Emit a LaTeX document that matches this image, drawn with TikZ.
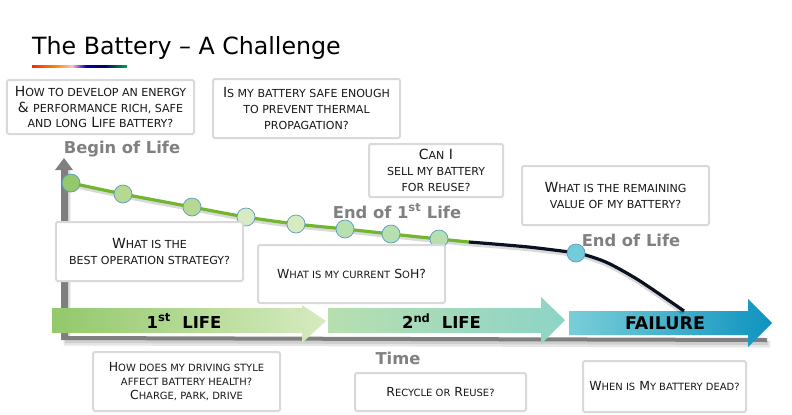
\documentclass[tikz,border=0pt]{standalone}
\usepackage{fontspec}
\setmainfont{DejaVu Sans}
\usetikzlibrary{shadings}
\newcommand\smallsz{11}
\newcommand\sm[1]{{\fontsize{\smallsz}{14}\selectfont\MakeUppercase{#1}}}
\definecolor{boxline}{HTML}{D9D9D9}
\definecolor{axisgray}{HTML}{7F7F7F}
\definecolor{labgray}{HTML}{808080}
\definecolor{curvegreen}{HTML}{72B52E}
\definecolor{curveblack}{HTML}{0A1222}
\definecolor{ringblue}{HTML}{5B9BBF}
\tikzset{
  qbox/.style={draw=boxline,line width=2bp,fill=white,rounded corners=1.5bp,align=center,inner sep=0pt,text=black!90},
  qmid/.style={qbox,font=\def\smallsz{11.1}\fontsize{14}{16}\selectfont},
  qsmall/.style={qbox,font=\def\smallsz{10}\fontsize{12.5}{14}\selectfont},
  lab/.style={text=labgray,font=\fontsize{16.4}{18}\selectfont\bfseries,inner sep=0pt},
  lifelab/.style={text=black,font=\fontsize{16.5}{18}\selectfont\bfseries,inner sep=0pt},
  dot/.style={circle,draw=ringblue,line width=0.7bp,minimum size=18bp,inner sep=0pt},
  axisline/.style={draw=axisgray},
  shadowline/.style={draw=black,opacity=0.10},
}
\begin{document}
\begin{tikzpicture}[x=1bp,y=-1bp]
\useasboundingbox (0,0) rectangle (792,414);
% title
\node[anchor=base west,inner sep=0pt,font=\fontsize{23.8}{28}\selectfont,text=black] (title) at (32,54) {The Battery – A Challenge};
\shade[left color=red!70!orange,right color=orange] (32,65) rectangle (54,67.5);
\shade[left color=orange,right color=pink] (54,65) rectangle (72,67.5);
\shade[left color=pink,right color=blue!70!black] (72,65) rectangle (86,67.5);
\shade[left color=blue!70!black,right color=blue!40!black] (86,65) rectangle (104,67.5);
\shade[left color=blue!40!black,right color=teal!70!green] (104,65) rectangle (127,67.5);
% axes
\coordinate (origin) at (64.5,338);
\coordinate (ytop) at (64,158);
\coordinate (xend) at (767,340);
\draw[shadowline,line width=7bp] (67,170) -- (67,342) -- (770,344);
\draw[shadowline,line width=4bp] (67,170) -- (67,341) -- (768,343);
\draw[axisline,line width=6.5bp] (origin) -- (64.5,170);
\draw[axisline,line width=4bp] (61.25,338) -- (xend);
\fill[axisgray] (ytop) -- (73,170) -- (55,170) -- cycle;
% arrows
\shade[left color={rgb,255:red,147;green,200;blue,107},middle color={rgb,255:red,178;green,215;blue,145},right color={rgb,255:red,214;green,235;blue,192}]
  (52,308) -- (302,308) -- (302,305) -- (326,321) -- (302,343) -- (302,333) -- (52,333) -- cycle;
\shade[left color={rgb,255:red,183;green,223;blue,176},right color={rgb,255:red,141;green,212;blue,199}]
  (328,308) -- (541,308) -- (541,297) -- (565,320) -- (541,344) -- (541,333) -- (328,333) -- cycle;
\shade[left color={rgb,255:red,122;green,206;blue,217},middle color={rgb,255:red,105;green,192;blue,214},right color={rgb,255:red,14;green,147;blue,191}]
  (569,311) -- (748,311) -- (748,299) -- (772,323) -- (748,347) -- (748,335) -- (569,335) -- cycle;
\node[lifelab] (life1) at (184,321) {1\textsuperscript{st}\ \ LIFE};
\node[lifelab] (life2) at (441.5,321) {2\textsuperscript{nd}\ \ LIFE};
\node[lifelab,font=\fontsize{17.5}{18}\selectfont\bfseries] (fail) at (665,323.5) {FAILURE};
% curve anchors
\coordinate (c1) at (71,183);
\coordinate (c2) at (123,194);
\coordinate (c3) at (192,207);
\coordinate (c4) at (246,217);
\coordinate (c5) at (296,224);
\coordinate (c6) at (345,229);
\coordinate (c7) at (391,234);
\coordinate (c8) at (439,239);
\coordinate (g) at (469,242);
\coordinate (k0) at (500,244.5);
\coordinate (k00) at (533,247.5);
\coordinate (c9) at (576,253);
\coordinate (k01) at (592,257);
\coordinate (k1) at (610,264);
\coordinate (k2) at (640,281);
\coordinate (k3) at (684,311);
\draw[black,opacity=0.15,line width=4.5bp,line cap=round] plot[smooth,tension=0.5] coordinates {(71,185) (123,196) (192,209) (246,219) (296,226) (345,231) (391,236) (439,241) (469,244) (500,246.5) (533,249.5) (576,255) (592,259) (610,266) (640,283) (682,312)};
\draw[curvegreen,line width=3.2bp] plot[smooth,tension=0.5] coordinates {(c1) (c2) (c3) (c4) (c5) (c6) (c7) (c8) (g)};
\draw[curveblack,line width=3.2bp] plot[smooth,tension=0.5] coordinates {(g) (k0) (k00) (c9) (k01) (k1) (k2) (k3)};
\node[dot,fill={rgb,255:red,147;green,200;blue,107}] (d1) at (c1) {};
\node[dot,fill={rgb,255:red,181;green,216;blue,146}] (d2) at (c2) {};
\node[dot,fill={rgb,255:red,181;green,216;blue,146}] (d3) at (c3) {};
\node[dot,fill={rgb,255:red,214;green,235;blue,192}] (d4) at (c4) {};
\node[dot,fill={rgb,255:red,214;green,235;blue,192}] (d5) at (c5) {};
\node[dot,fill={rgb,255:red,183;green,223;blue,176}] (d6) at (c6) {};
\node[dot,fill={rgb,255:red,183;green,223;blue,176}] (d7) at (c7) {};
\node[dot,fill={rgb,255:red,183;green,223;blue,176}] (d8) at (c8) {};
\node[dot,fill={rgb,255:red,116;green,203;blue,218}] (d9) at (c9) {};
% labels
\node[lab] (bol) at (122,149.5) {Begin of Life};
\node[lab] (eol1) at (397,211) {End of 1\textsuperscript{st} Life};
\node[lab] (eol) at (631,240) {End of Life};
\node[lab] (time) at (398,358) {Time};
% boxes
\node[qmid,minimum width=187bp,minimum height=54bp] (b1) at (100.5,107) {H\sm{ow to develop an energy}\\\& \sm{performance rich, safe}\\\sm{and long} L\sm{ife battery?}};
\node[qmid,minimum width=187bp,minimum height=59bp] (b2) at (306.5,108.5) {I\sm{s my battery safe enough}\\\sm{to prevent thermal}\\\sm{propagation?}};
\node[qmid,minimum width=134bp,minimum height=53bp] (b3) at (436,170.5) {C\sm{an} I\\\sm{sell my battery}\\\sm{for reuse?}};
\node[qmid,minimum width=187bp,minimum height=59bp] (b4) at (615.5,195.5) {W\sm{hat is the remaining}\\\sm{value of my battery?}};
\node[qmid,minimum width=187bp,minimum height=59bp] (b5) at (149.5,251.5) {W\sm{hat is the}\\\sm{best operation strategy?}};
\node[qsmall,minimum width=187bp,minimum height=58bp] (b6) at (351.5,274) {W\sm{hat is my current} S\sm{o}H?};
\node[qsmall,minimum width=187bp,minimum height=59bp] (b7) at (186.5,381.5) {H\sm{ow does my driving style}\\\sm{affect battery health?}\\C\sm{harge, park, drive}};
\node[qsmall,minimum width=171bp,minimum height=38bp] (b8) at (440.5,392) {R\sm{ecycle or} R\sm{euse?}};
\node[qsmall,minimum width=163bp,minimum height=51bp] (b9) at (664.5,386.5) {W\sm{hen is} M\sm{y battery dead?}};
\end{tikzpicture}
\end{document}
